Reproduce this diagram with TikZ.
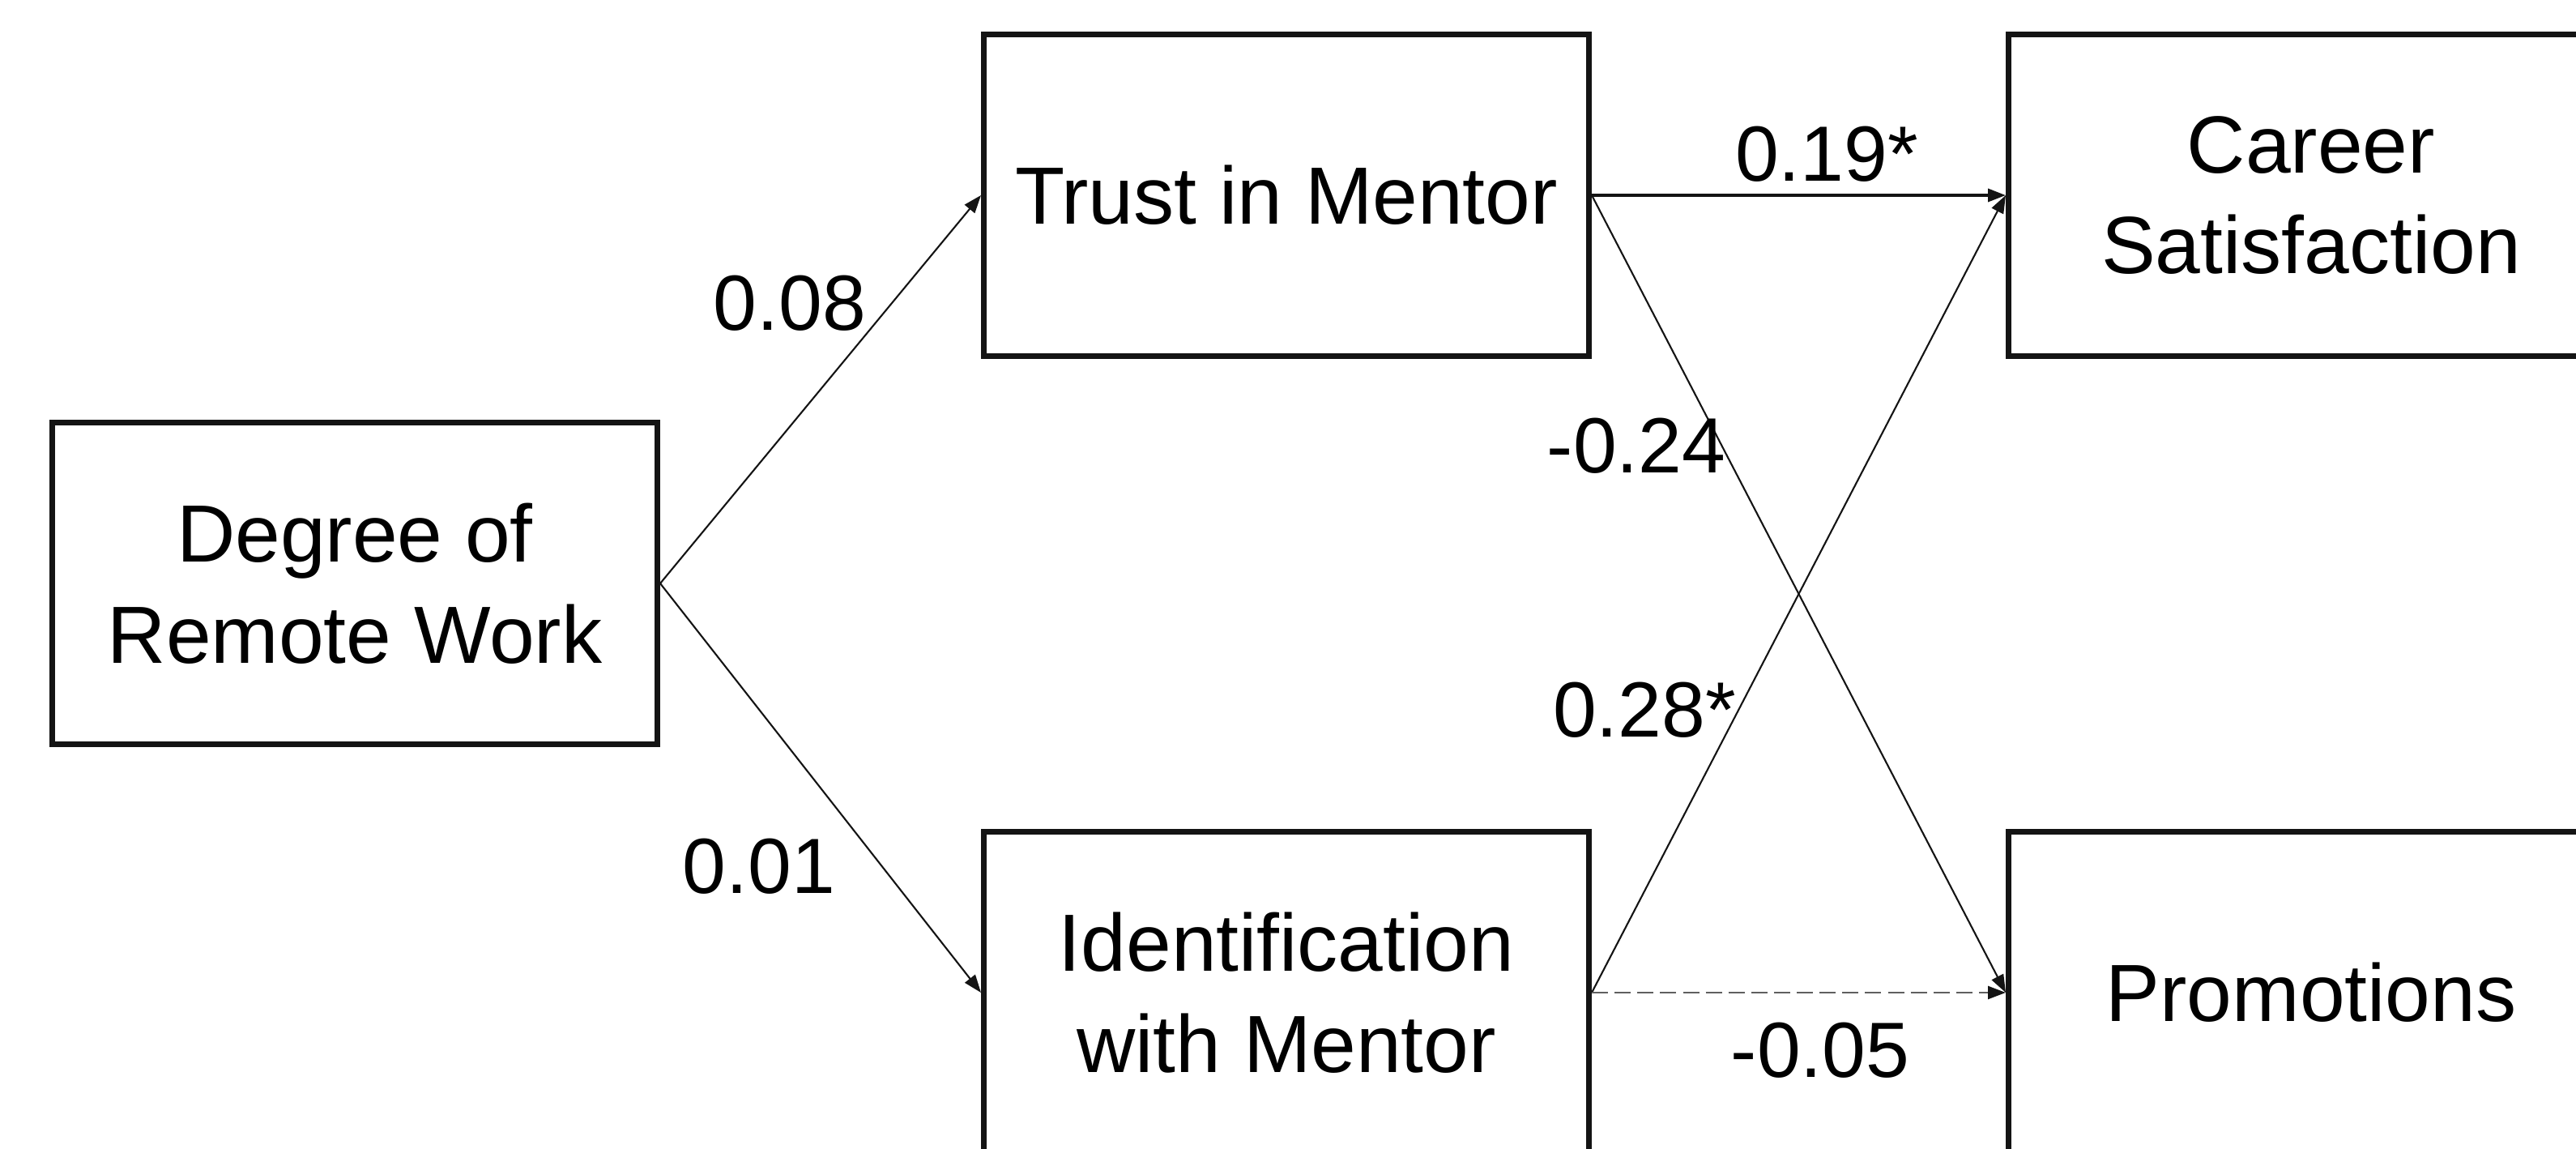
\documentclass[tikz,border=0pt]{standalone}
\usepackage{fontspec}
\setmainfont{Liberation Sans}
\usetikzlibrary{arrows.meta}
\definecolor{ink}{RGB}{20,20,20}
\definecolor{slate}{RGB}{95,95,95}
\tikzset{
  >={Triangle[length=2.2mm,width=1.6mm]},
  box/.style={draw=ink,line width=2pt,minimum width=74.7mm,minimum height=39.7mm,
    align=center,inner sep=0pt,font=\fontsize{28.5}{35.5}\selectfont},
  link/.style={->,draw=ink,line width=0.6pt},
  strong link/.style={link,line width=1pt},
  weak link/.style={-{Triangle[length=2.2mm,width=1.6mm,color=ink]},draw=slate,
    line width=0.7pt,dash pattern=on 5.7pt off 2.3pt},
  coef/.style={inner sep=0pt,font=\fontsize{27.5}{33}\selectfont},
}
\begin{document}
\begin{tikzpicture}
  \useasboundingbox (0,0) rectangle (31.8,-14.18);
  \clip (0,0) rectangle (31.8,-14.18);
  \foreach \n/\t/\x/\y in {deg/Degree of\\Remote Work/4.38/-7.20,trust/Trust in Mentor/15.88/-2.41,
    ident/Identification\\with Mentor/15.88/-12.25,career/Career\\Satisfaction/28.53/-2.41,promo/Promotions/28.53/-12.25}
    \node[box] (\n) at (\x,\y) {\t};
  \foreach \a/\b/\s/\v/\x/\y [count=\i] in {deg/trust/link/0.08/9.75/-3.74,deg/ident/link/0.01/9.37/-10.69,
    trust/career/strong link/0.19*/22.55/-1.90,trust/promo/link/-0.24/20.20/-5.50,
    ident/career/link/0.28*/20.30/-8.76,ident/promo/weak link/-0.05/22.47/-12.96}{
    \draw[\s] (\a.east) -- (\b.west);
    \node[coef] (c\i) at (\x,\y) {\v};
  }
\end{tikzpicture}
\end{document}
